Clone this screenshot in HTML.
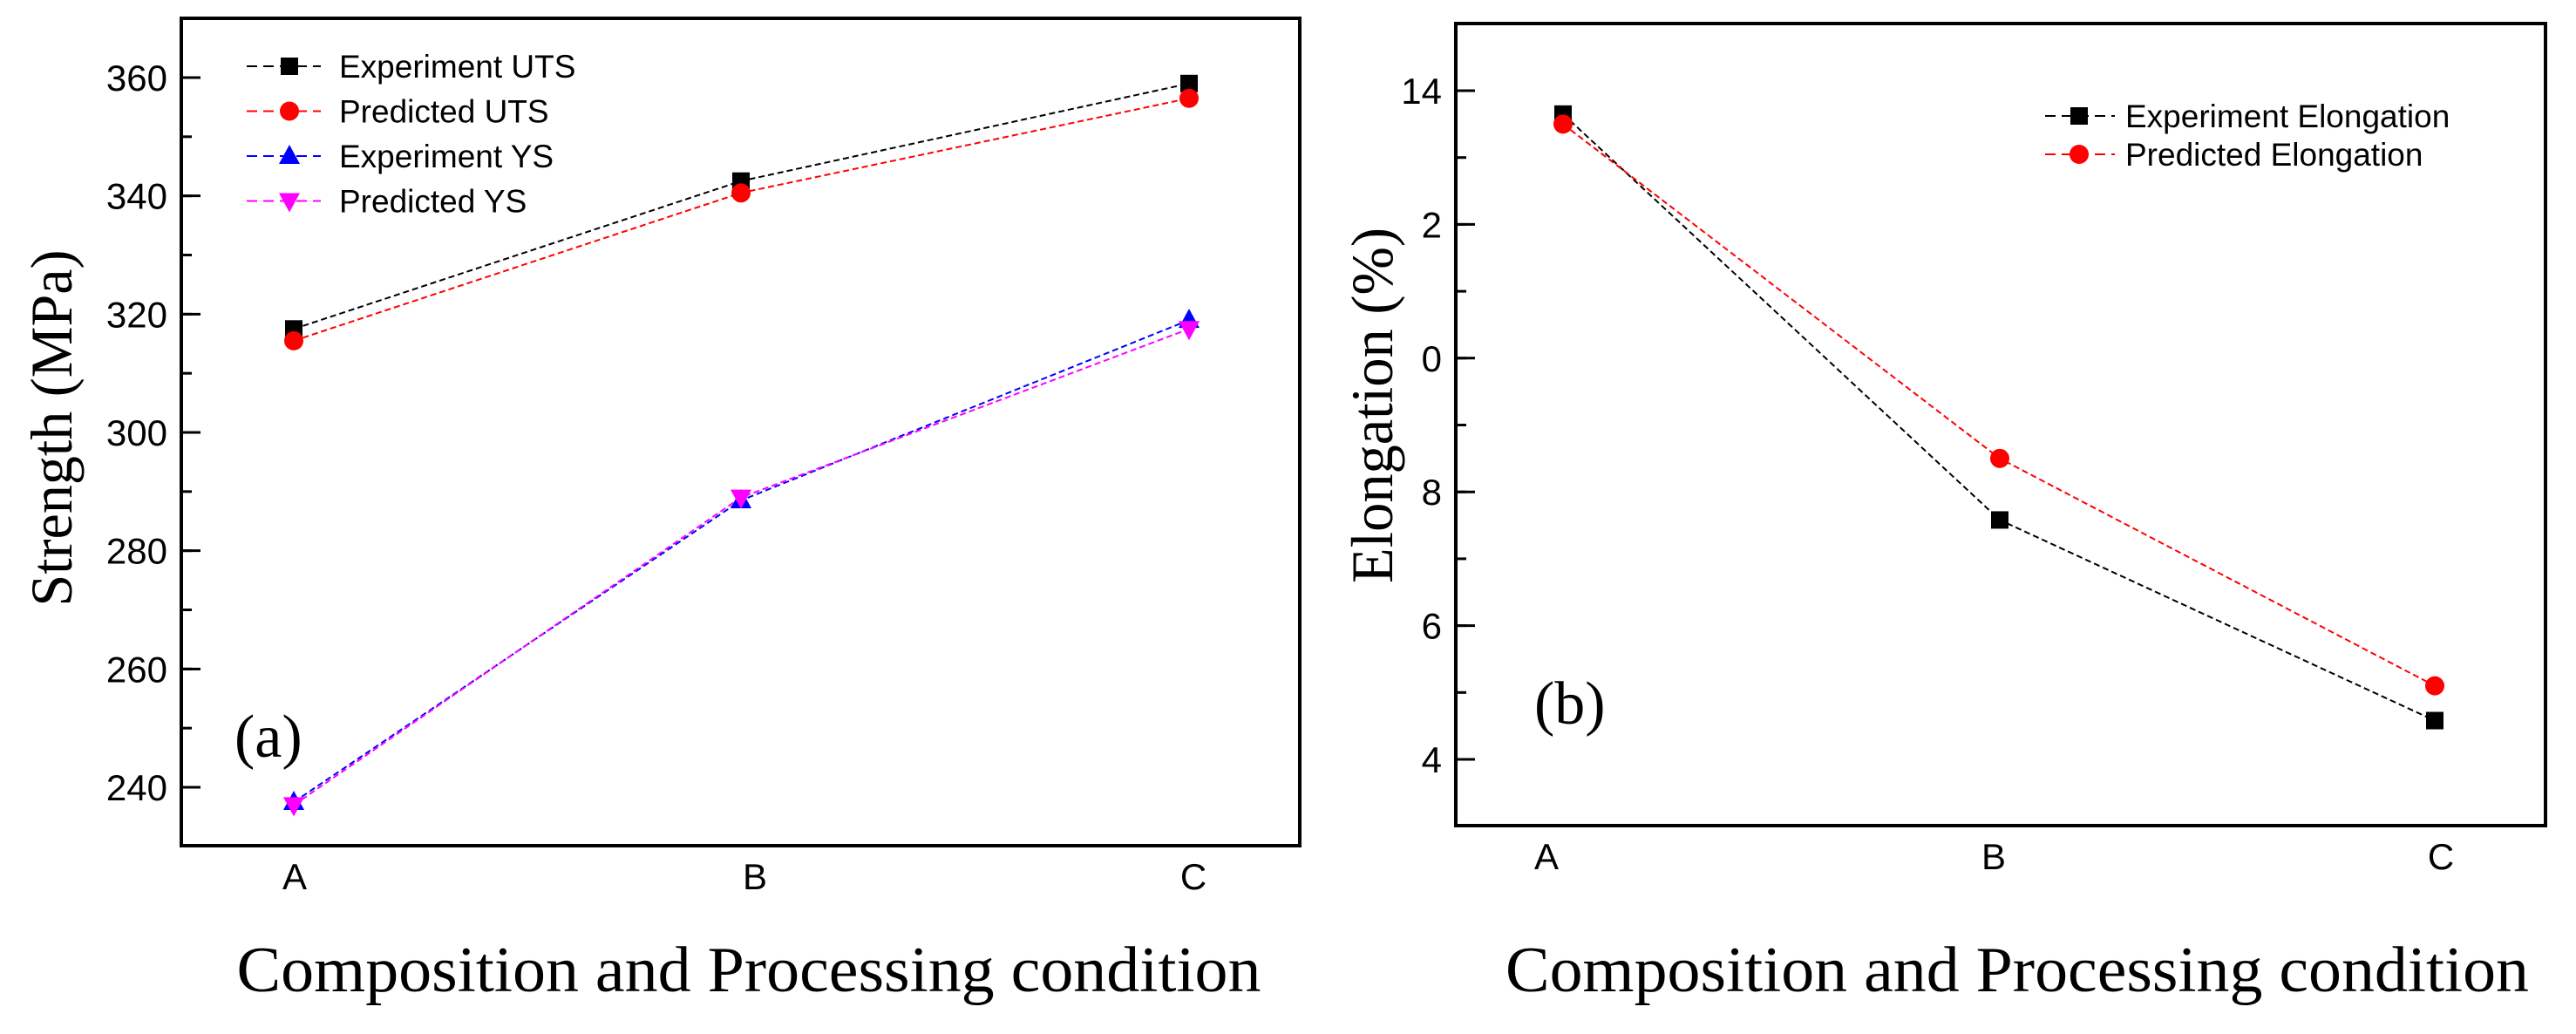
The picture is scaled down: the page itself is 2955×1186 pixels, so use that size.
<!DOCTYPE html>
<html><head><meta charset="utf-8"><style>
html,body{margin:0;padding:0;background:#fff;}
svg{display:block;}
.tick{font-family:"Liberation Sans",Arial,sans-serif;font-size:42px;fill:#000;}
.leg{font-family:"Liberation Sans",Arial,sans-serif;font-size:37px;fill:#000;}
.ser{font-family:"Liberation Serif","Times New Roman",serif;fill:#000;}
</style></head><body>
<svg id="fig" width="2955" height="1186" viewBox="0 0 2955 1186" xmlns="http://www.w3.org/2000/svg">
<g id="pa"></g>
<g id="pb"></g>
</svg>
<script>
const categories = ["A","B","C"];
// Panel (a)
const expUTS = [317.5, 342.5, 359];
const predUTS = [315.5, 340.5, 356.5];
const expYS = [237.5, 288.5, 319];
const predYS = [237, 289, 317.5];
const aTicks = [240, 260, 280, 300, 320, 340, 360];
const aTickLabels = ["240","260","280","300","320","340","360"];
// Panel (b)
const expEl = [13.65, 7.58, 4.58];
const predEl = [13.5, 8.5, 5.1];
const bTicks = [4, 6, 8, 10, 12, 14];
const bTickLabels = ["4","6","8","0","2","14"];

const NS = "http://www.w3.org/2000/svg";
function mk(parent, tag, attrs, text){
  const e = document.createElementNS(NS, tag);
  for (const k in attrs) e.setAttribute(k, attrs[k]);
  if (text !== undefined) e.textContent = text;
  parent.appendChild(e);
  return e;
}
function marker(g, type, x, y, color){
  let m;
  if (type === "sq") m = mk(g, "rect", {x:x-10, y:y-10, width:20, height:20, fill:color});
  else if (type === "ci") m = mk(g, "circle", {cx:x, cy:y, r:11, fill:color});
  else if (type === "up") m = mk(g, "polygon", {points:`${x},${y-13} ${x-12},${y+9} ${x+12},${y+9}`, fill:color});
  else m = mk(g, "polygon", {points:`${x},${y+13} ${x-12},${y-9} ${x+12},${y-9}`, fill:color});
  return m;
}
function panel(g, cfg){
  const {L,R,T,B,xPos,yScale,ticks,labels,minor,series,legend} = cfg;
  // ticks
  minor.forEach(v=>{
    const y = yScale(v);
    const t = mk(g,"line",{x1:L,x2:L+12,y1:y,y2:y,stroke:"#000","stroke-width":3});
    
    
  });
  ticks.forEach((v,i)=>{
    const y = yScale(v);
    const t = mk(g,"line",{x1:L,x2:L+22,y1:y,y2:y,stroke:"#000","stroke-width":3});
    
    
    const lb = mk(g,"text",{x:L-16,y:y+15,"text-anchor":"end",class:"tick"},labels[i]);
    
    
  });
  categories.forEach((c,i)=>{
    const lb = mk(g,"text",{x:cfg.xLab[i],y:B+50,"text-anchor":"middle",class:"tick"},c);
    
    
  });
  // series
  series.forEach(s=>{
    const pts = s.data.map((v,i)=>`${xPos[i]},${yScale(v)}`).join(" ");
    const pl = mk(g,"polyline",{points:pts,fill:"none",stroke:s.color,"stroke-width":2,"stroke-dasharray":"7 4"});
    
    
    s.data.forEach((v,i)=>{
      const m = marker(g, s.m, xPos[i], yScale(v), s.color);
      
      
    });
  });
  // legend
  series.forEach((s,i)=>{
    const y = legend.y0 + i*legend.dy;
    const lg = mk(g,"g",{});
    
    
    mk(lg,"line",{x1:legend.x1,x2:legend.x2,y1:y,y2:y,stroke:s.color,"stroke-width":2,"stroke-dasharray":"12 7"});
    marker(lg, s.m, legend.mx, y, s.color);
    mk(lg,"text",{x:legend.tx,y:y+13,class:"leg"},s.label);
  });
  // frame
  const fr = mk(g,"rect",{x:L,y:T,width:R-L,height:B-T,fill:"none",stroke:"#000","stroke-width":4});
  
  
}

// Panel a
(function(){
  const g = document.getElementById("pa");
  const y0=903, y1=89;
  const yScale = v => y0 + (v-240)*(y1-y0)/120;
  const minor=[]; for(let v=230; v<=370; v+=10) if(v>=232 && v<=368) minor.push(v);
  panel(g,{L:208,R:1491,T:21,B:970,xPos:[337,850,1364],xLab:[338,866,1369],yScale,ticks:aTicks,labels:aTickLabels,minor,
    series:[
      {name:'experiment-uts',label:'Experiment UTS',data:expUTS,color:'#000',m:'sq'},
      {name:'predicted-uts',label:'Predicted UTS',data:predUTS,color:'#ff0000',m:'ci'},
      {name:'experiment-ys',label:'Experiment YS',data:expYS,color:'#0000ff',m:'up'},
      {name:'predicted-ys',label:'Predicted YS',data:predYS,color:'#ff00ff',m:'dn'}
    ],
    legend:{x1:283,x2:368,mx:332,tx:389,y0:76,dy:51.5}});
  const t1 = mk(g,"text",{x:859,y:1137,"text-anchor":"middle",class:"ser","font-size":74,textLength:1175,lengthAdjust:"spacingAndGlyphs"},"Composition  and Processing  condition");
  
  
  const t2 = mk(g,"text",{x:0,y:0,"text-anchor":"middle",class:"ser","font-size":68,textLength:409,lengthAdjust:"spacingAndGlyphs",transform:"translate(82,491) rotate(-90)"},"Strength  (MPa)");
  
  
  const t3 = mk(g,"text",{x:269,y:868,class:"ser","font-size":70},"(a)");
  
  
})();

// Panel b
(function(){
  const g = document.getElementById("pb");
  const y0=871, y1=104;
  const yScale = v => y0 + (v-4)*(y1-y0)/10;
  const minor=[]; for(let v=3; v<=15; v+=1) minor.push(v);
  panel(g,{L:1670,R:2920,T:27,B:947,xPos:[1793,2294,2793],xLab:[1774,2287,2800],yScale,ticks:bTicks,labels:bTickLabels,minor:minor.filter(v=>yScale(v)>30&&yScale(v)<944),
    series:[
      {name:'experiment-elongation',label:'Experiment Elongation',data:expEl,color:'#000',m:'sq'},
      {name:'predicted-elongation',label:'Predicted Elongation',data:predEl,color:'#ff0000',m:'ci'}
    ],
    legend:{x1:2346,x2:2426,mx:2385,tx:2438,y0:133,dy:44}});
  const t1 = mk(g,"text",{x:2314,y:1137,"text-anchor":"middle",class:"ser","font-size":74,textLength:1174,lengthAdjust:"spacingAndGlyphs"},"Composition  and Processing  condition");
  
  
  const t2 = mk(g,"text",{x:0,y:0,"text-anchor":"middle",class:"ser","font-size":68,textLength:408,lengthAdjust:"spacingAndGlyphs",transform:"translate(1597,465) rotate(-90)"},"Elongation  (%)");
  
  
  const t3 = mk(g,"text",{x:1760,y:830,class:"ser","font-size":70},"(b)");
  
  
})();
</script>
</body></html>
